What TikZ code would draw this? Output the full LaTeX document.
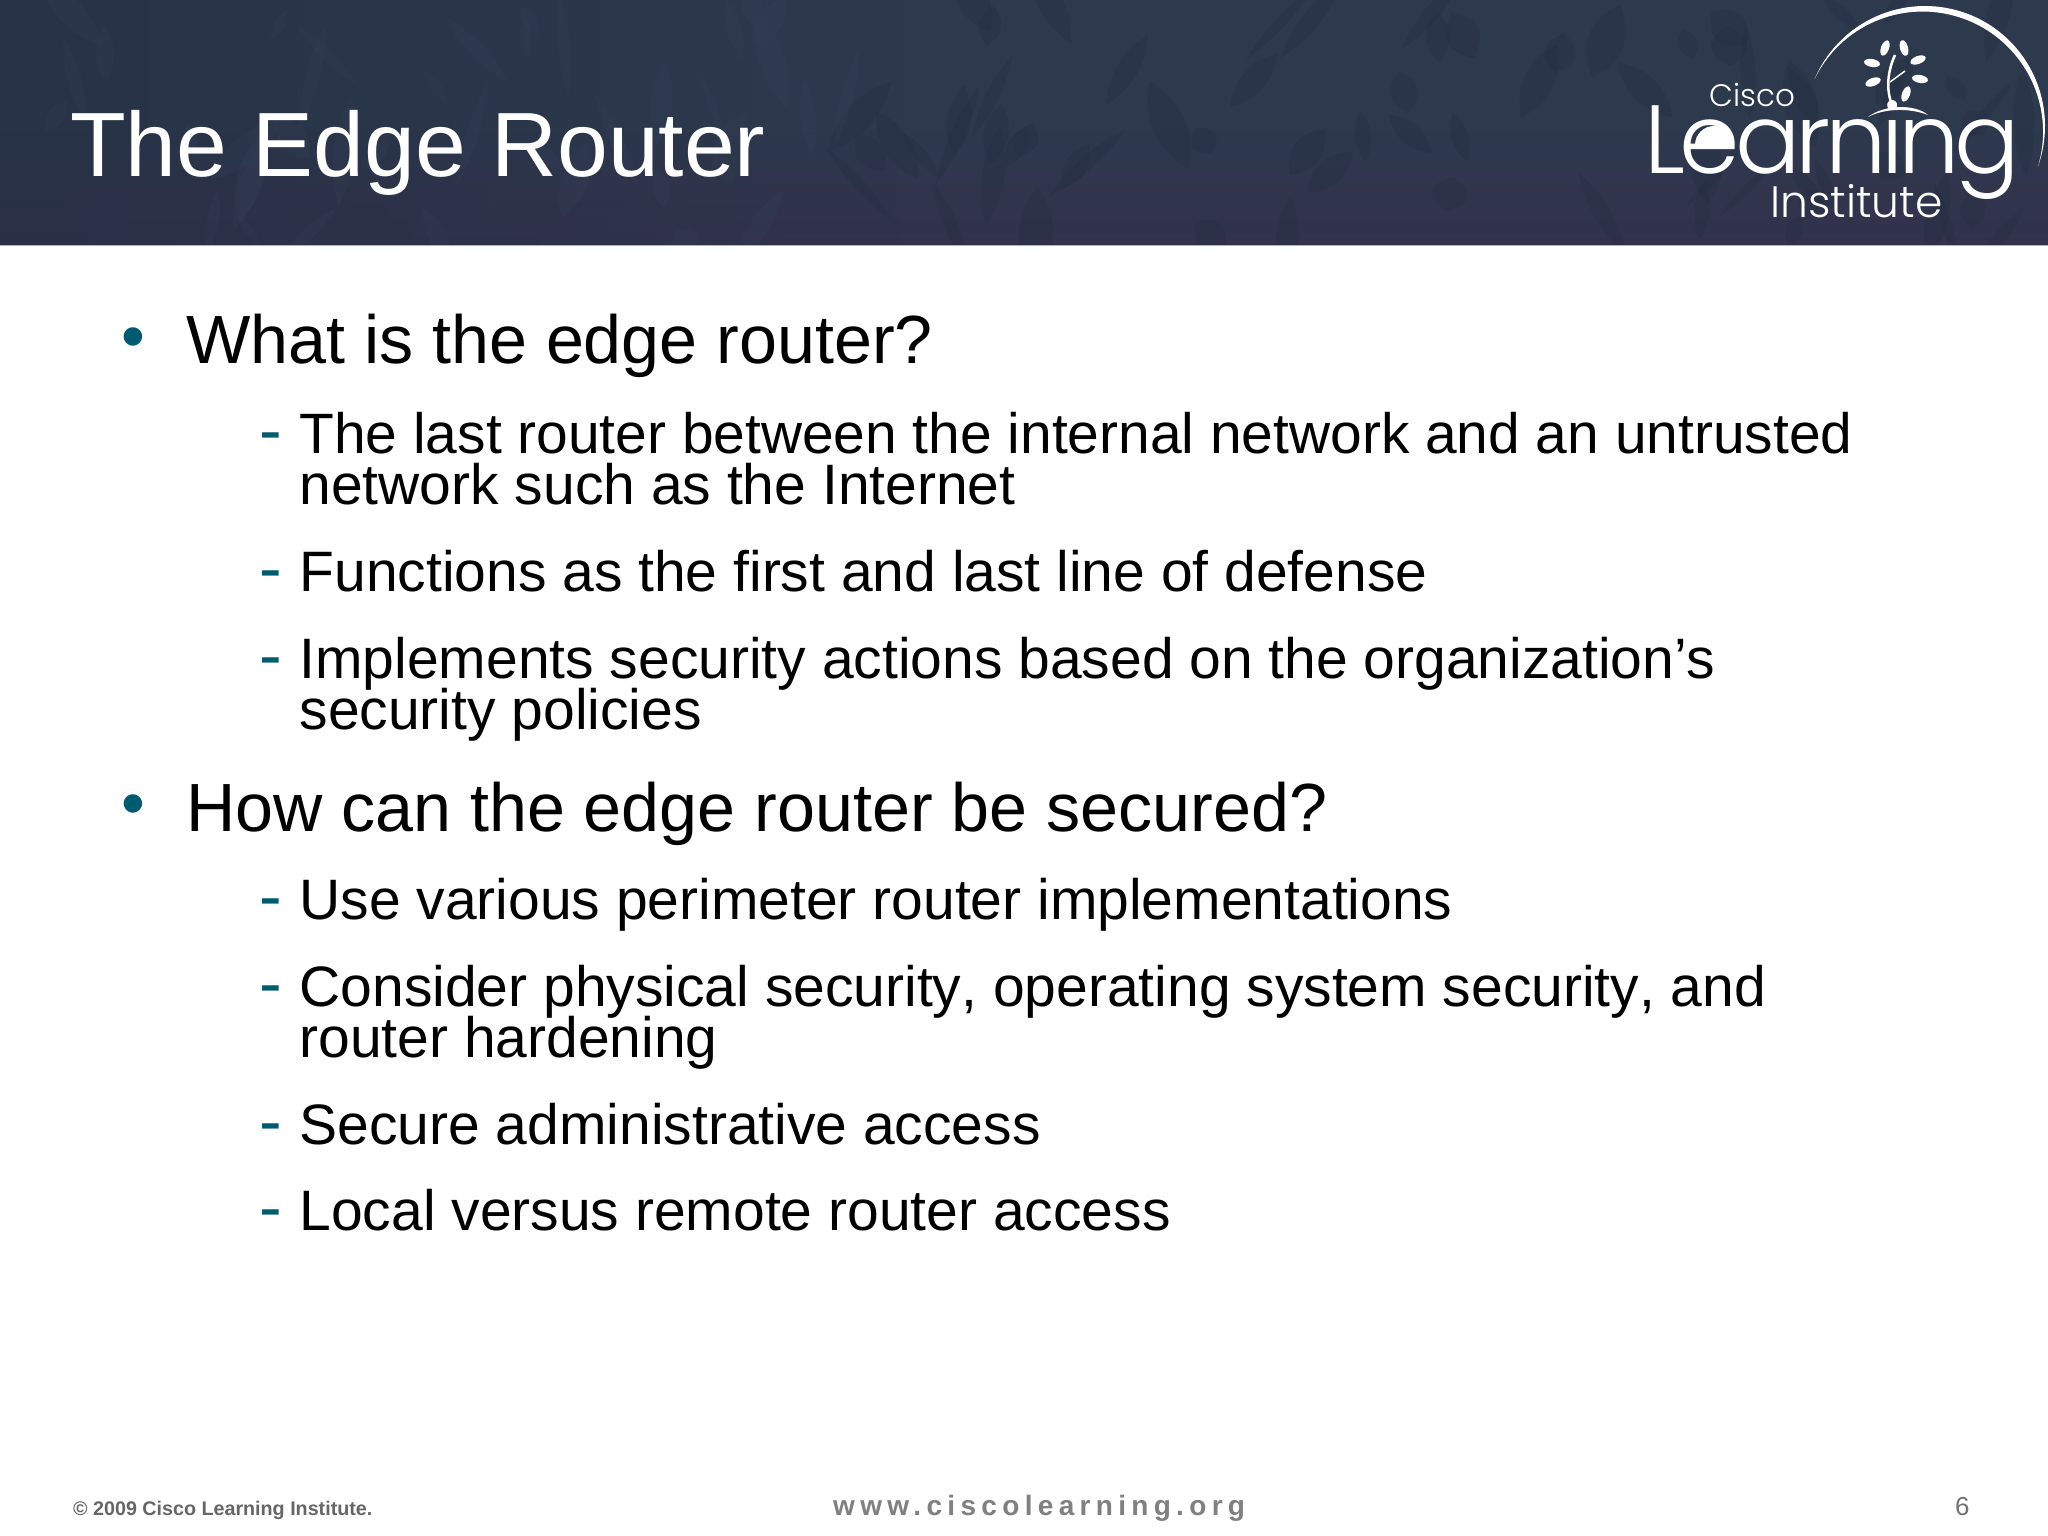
\documentclass[tikz,border=0pt]{standalone}
\usetikzlibrary{fadings}
\usepackage{fontspec}
\setmainfont{Liberation Sans}
\newfontfamily\logofont{Poppins Light}
\definecolor{navy}{HTML}{2D394D}
\definecolor{navyb}{HTML}{32324C}
\definecolor{navyd}{HTML}{232D41}
\definecolor{navyl}{HTML}{37425A}
\definecolor{teal}{HTML}{005B70}
\tikzset{
  txt/.style={anchor=base west,inner sep=0pt,outer sep=0pt,text=black},
  lvla/.style={txt,font=\fontsize{68.2}{68}\selectfont},
  lvlb/.style={txt,font=\fontsize{57}{57}\selectfont},
  bul/.style={anchor=center,inner sep=0pt,text=teal,font=\fontsize{68}{68}\selectfont},
  dsh/.style={anchor=base west,inner sep=0pt,text=teal,font=\fontsize{68}{68}\selectfont},
  logo/.style={anchor=base west,inner sep=0pt,text=white},
  leaf/.style={fill=white,draw=none}
}
\newcommand{\nokern}{\addfontfeature{Kerning=Off}}
\begin{document}
\begin{tikzpicture}[x=1pt,y=-1pt]
\useasboundingbox (0,0) rectangle (2048,1536);
\fill[white] (0,0) rectangle (2048,1536);
\shade[top color=navy,bottom color=navyb,middle color=navy] (0,0) rectangle (2048,245);
\fill[navyd,opacity=.5,path fading=east] (0,0) rectangle (900,245);
\draw[line width=1pt,gray!60] (0,245) -- (2048,245);
\pgfmathsetseed{11}
\begin{scope}
\clip (0,0) rectangle (2048,244);
\foreach \i in {1,...,70}{
  \pgfmathsetmacro{\xx}{random(850,2048)}
  \pgfmathsetmacro{\yy}{random(0,245)}
  \pgfmathsetmacro{\rr}{random(40,140)}
  \pgfmathsetmacro{\ll}{random(15,55)}
  \pgfmathsetmacro{\ww}{random(6,24)}
  \fill[navyd,opacity=.28,rotate around={\rr:(\xx,\yy)}] (\xx-\ll,\yy) .. controls (\xx-\ll/3,\yy-\ww) and (\xx+\ll/3,\yy-\ww) .. (\xx+\ll,\yy) .. controls (\xx+\ll/3,\yy+\ww) and (\xx-\ll/3,\yy+\ww) .. (\xx-\ll,\yy) -- cycle;
}
\foreach \i in {1,...,40}{
  \pgfmathsetmacro{\xx}{random(0,850)}
  \pgfmathsetmacro{\yy}{random(0,245)}
  \pgfmathsetmacro{\rr}{random(40,140)}
  \pgfmathsetmacro{\ll}{random(15,55)}
  \pgfmathsetmacro{\ww}{random(5,18)}
  \fill[navyl,opacity=.22,rotate around={\rr:(\xx,\yy)}] (\xx-\ll,\yy) .. controls (\xx-\ll/3,\yy-\ww) and (\xx+\ll/3,\yy-\ww) .. (\xx+\ll,\yy) .. controls (\xx+\ll/3,\yy+\ww) and (\xx-\ll/3,\yy+\ww) .. (\xx-\ll,\yy) -- cycle;
}
\end{scope}
\node[anchor=base west,inner sep=0pt,text=white,font=\fontsize{91.3}{91}\selectfont\nokern] (title) at (70,176) {The Edge Router};
% logo
\fill[white] plot[domain=157:-20,samples=70] ({1925+120*cos(\x)},{126-120*sin(\x)}) -- plot[domain=-20:157,samples=70] ({1925+(120-6*sin((\x+20)*1.017))*cos(\x)},{126-(120-6*sin((\x+20)*1.017))*sin(\x)}) -- cycle;
\node[logo,font=\logofont\fontsize{31}{31}\selectfont] (cisco) at (1709,107) {Cisco};
\node[logo,font=\logofont\fontsize{97}{97}\selectfont\addfontfeature{LetterSpace=-5.4}] (learning) at (1644,173) {Learning};
\fill[white] (1695,145) arc[start angle=180,end angle=360,radius=19] -- cycle;
\node[logo,font=\logofont\fontsize{44}{44}\selectfont] (inst) at (1770,217) {Institute};
\foreach \cx/\cy/\ang in {1885/48/70,1904/48/105,1872/63/-10,1918/60/20,1873/82/20,1920/79/-10,1906/94/70}
  \fill[leaf,rotate around={\ang:(\cx,\cy)}] (\cx,\cy) ellipse (8 and 4);
\draw[white,line width=2.5pt] (1893,107) .. controls (1885,90) and (1888,70) .. (1895,55);
\draw[white,line width=1.5pt] (1890,82) -- (1905,71);
\fill[white] (1868,117) .. controls (1885,104) and (1915,104) .. (1928,115) .. controls (1910,108) and (1885,108) .. (1868,117) -- cycle;
% bullets
\node[bul] (b1) at (133,344) {•};
\node[lvla] (t1) at (186,363.5) {What is the edge router?};
\node[dsh] (d1) at (259,453.5) {-};
\node[lvlb,font=\fontsize{56.9}{57}\selectfont] (t2) at (299.5,453.5) {The last router between the internal network and an untrusted};
\node[lvlb] (t2b) at (299.5,504.5) {network such as the Internet};
\node[dsh] (d2) at (259,591) {-};
\node[lvlb] (t3) at (299.5,591) {Functions as the first and last line of defense};
\node[dsh] (d3) at (259,678) {-};
\node[lvlb] (t4) at (299.5,678) {Implements security actions based on the organization’s};
\node[lvlb] (t4b) at (299.5,729) {security policies};
\node[bul] (b2) at (133,811) {•};
\node[lvla] (t5) at (186,831) {\nokern How can the edge router be secured?};
\node[dsh] (d4) at (259,919.5) {-};
\node[lvlb] (t6) at (299.5,919.5) {Use various perimeter router implementations};
\node[dsh] (d5) at (259,1006.5) {-};
\node[lvlb] (t7) at (299.5,1006.5) {\nokern Consider physical security, operating system security, and};
\node[lvlb] (t7b) at (299.5,1057.5) {router hardening};
\node[dsh] (d6) at (259,1144.5) {-};
\node[lvlb] (t8) at (299.5,1144.5) {Secure administrative access};
\node[dsh] (d7) at (259,1230.5) {-};
\node[lvlb] (t9) at (299.5,1230.5) {Local versus remote router access};
% footer
\node[anchor=base west,inner sep=0pt,text=black!60,font=\bfseries\fontsize{19.7}{20}\selectfont] (copy) at (73,1515) {© 2009 Cisco Learning Institute.};
\node[anchor=base west,inner sep=0pt,text=black!50,font=\bfseries\fontsize{28}{28}\addfontfeature{LetterSpace=19}\selectfont] (www) at (833,1515) {www.ciscolearning.org};
\node[anchor=base west,inner sep=0pt,text=black!55,font=\fontsize{26}{26}\selectfont] (num) at (1955,1515) {6};
\end{tikzpicture}
\end{document}
